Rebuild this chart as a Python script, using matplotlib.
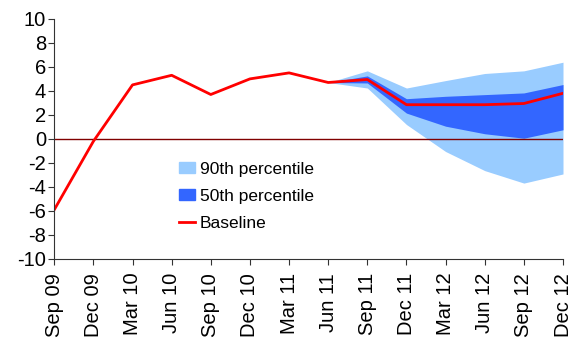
import matplotlib
matplotlib.use('Agg')
import matplotlib.pyplot as plt
from matplotlib.patches import Patch
from matplotlib.lines import Line2D

plt.rcParams['font.family'] = ['Liberation Sans', 'DejaVu Sans']
plt.rcParams['axes.unicode_minus'] = False

quarters = ['Sep 09', 'Dec 09', 'Mar 10', 'Jun 10', 'Sep 10', 'Dec 10', 'Mar 11',
            'Jun 11', 'Sep 11', 'Dec 11', 'Mar 12', 'Jun 12', 'Sep 12', 'Dec 12']
baseline = [-5.9, -0.2, 4.5, 5.3, 3.7, 5.0, 5.5, 4.7, 4.95, 2.85, 2.85, 2.85, 2.95, 3.8]

# fan chart starts at Jun 11
fan_quarters = quarters[7:]
p90_hi = [4.7, 5.67, 4.24, 4.86, 5.45, 5.67, 6.39]
p90_lo = [4.7, 4.24, 1.2, -1.05, -2.64, -3.68, -2.92]
p50_hi = [4.7, 5.25, 3.35, 3.55, 3.69, 3.83, 4.53]
p50_lo = [4.7, 4.66, 2.15, 1.06, 0.43, 0.06, 0.76]

x = list(range(len(quarters)))
xf = x[7:]

fig, ax = plt.subplots(figsize=(5.71, 3.43), dpi=100)
fig.subplots_adjust(left=0.095, right=0.986, top=0.945, bottom=0.245)

ax.fill_between(xf, p90_lo, p90_hi, color='#99CCFF', linewidth=0)
ax.fill_between(xf, p50_lo, p50_hi, color='#3366FF', linewidth=0)
ax.axhline(0, color='#800000', linewidth=1)
ax.plot(x, baseline, color='#FF0000', linewidth=2)

ax.set_xlim(0, len(quarters) - 1)
ax.set_ylim(-10, 10)
ax.set_yticks(range(-10, 11, 2))
ax.set_xticks(x)
ax.set_xticklabels(quarters, rotation=90)
ax.tick_params(labelsize=14.5, length=4, color='#333333', pad=2)
ax.tick_params(axis='x', pad=6)

for s in ['top', 'right']:
    ax.spines[s].set_visible(False)
ax.spines['left'].set_color('#333333')
ax.spines['bottom'].set_color('#333333')

handles = [Patch(color='#99CCFF', label='90th percentile'),
           Patch(color='#3366FF', label='50th percentile'),
           Line2D([0], [0], color='#FF0000', linewidth=2, label='Baseline')]
ax.legend(handles=handles, loc='upper left', bbox_to_anchor=(0.2456, 0.405),
          frameon=False, fontsize=12.5, handlelength=0.92, handleheight=0.6,
          labelspacing=0.7, handletextpad=0.25, borderpad=0, borderaxespad=0)

plt.savefig('out.png', dpi=100)
